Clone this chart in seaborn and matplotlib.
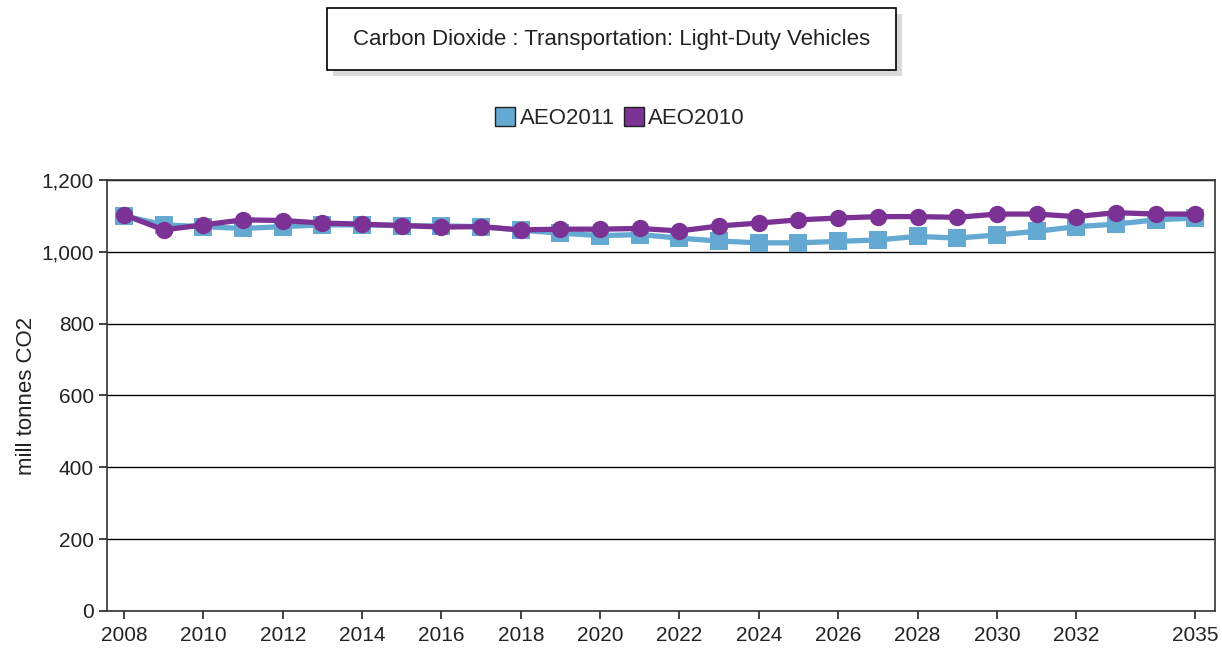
import pandas as pd
import matplotlib
matplotlib.use("Agg")
import matplotlib.pyplot as plt
from matplotlib.patches import Rectangle, Patch
from matplotlib.ticker import FuncFormatter
import seaborn as sns

# Data
years = list(range(2008, 2036))
aeo2011 = [1100, 1075, 1070, 1065, 1070, 1075, 1075, 1073, 1072, 1070,
           1060, 1052, 1045, 1048, 1038, 1030, 1025, 1025, 1029, 1033,
           1043, 1038, 1047, 1057, 1070, 1077, 1089, 1094]
aeo2010 = [1103, 1061, 1075, 1089, 1087, 1080, 1077, 1073, 1069, 1070,
           1061, 1063, 1063, 1065, 1058, 1072, 1080, 1089, 1094, 1098,
           1098, 1096, 1105, 1105, 1098, 1109, 1105, 1105]
series_names = ["AEO2011", "AEO2010"]
colors = ["#64A9D1", "#7B3294"]
xtick_years = [2008, 2010, 2012, 2014, 2016, 2018, 2020, 2022, 2024,
               2026, 2028, 2030, 2032, 2035]
yticks = [0, 200, 400, 600, 800, 1000, 1200]

df = pd.DataFrame({
    "year": years * 2,
    "value": aeo2011 + aeo2010,
    "series": [series_names[0]] * len(years) + [series_names[1]] * len(years),
})

sns.set_style("white")
plt.rcParams["font.family"] = ["Liberation Sans", "DejaVu Sans"]

fig = plt.figure(figsize=(12.22, 6.49), dpi=100)
ax = fig.add_axes([0.0876, 0.0586, 0.9067, 0.6641])

# Gridlines behind lines
for yv in yticks:
    ax.axhline(yv, color="black", lw=1.0, zorder=0)

sns.lineplot(
    data=df, x="year", y="value", hue="series",
    palette=dict(zip(series_names, colors)),
    style="series", markers={"AEO2011": "s", "AEO2010": "o"},
    dashes=False, linewidth=3.8, markersize=12.5, markeredgewidth=0,
    legend=False, ax=ax,
)

ax.set_xlim(2007.57, 2035.5)
ax.set_ylim(0, 1200)
ax.set_xticks(xtick_years)
ax.set_yticks(yticks)
ax.yaxis.set_major_formatter(FuncFormatter(lambda v, p: f"{int(v):,}"))
ax.tick_params(axis="both", labelsize=15, length=6, width=1.2,
               direction="out", colors="#222222", labelcolor="#222222",
               left=True, bottom=True)
ax.tick_params(axis="x", pad=5)
ax.set_xlabel("")
ax.set_ylabel("mill tonnes CO2", fontsize=16, color="#222222", labelpad=3)
for sp in ax.spines.values():
    sp.set_color("#333333")
    sp.set_linewidth(1.2)

# Title box with shadow
W, H = 1222, 649
def fig_rect(x0, y0, x1, y1, **kw):
    return Rectangle((x0 / W, 1 - y1 / H), (x1 - x0) / W, (y1 - y0) / H,
                     transform=fig.transFigure, **kw)

fig.patches.append(fig_rect(333, 14, 902, 76, facecolor="#d9d9d9", edgecolor="none"))
fig.patches.append(fig_rect(327, 8, 896, 70, facecolor="white", edgecolor="black", lw=1.2))
fig.text(611.5 / W, 1 - 40 / H, "Carbon Dioxide : Transportation: Light-Duty Vehicles",
         ha="center", va="center", fontsize=16, color="#222222")

handles = [Patch(facecolor=c, edgecolor="#222222", label=n) for n, c in zip(series_names, colors)]
fig.legend(handles=handles, loc="center", bbox_to_anchor=(620 / W, 1 - 118 / H),
           ncol=2, frameon=False, fontsize=16, handlelength=0.9, handleheight=0.9,
           handletextpad=0.2, columnspacing=0.4)

fig.savefig("out.png", dpi=100)
